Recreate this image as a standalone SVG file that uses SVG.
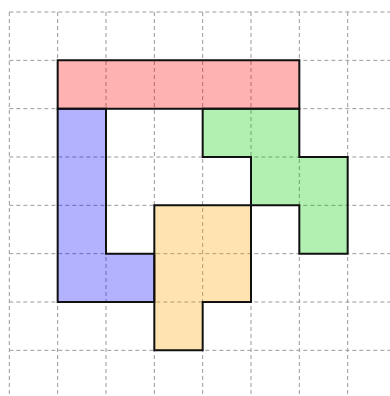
<svg xmlns="http://www.w3.org/2000/svg" width="390" height="396" viewBox="0 0 390 396">
<style>
.grid line{stroke:#999;stroke-width:1;stroke-dasharray:4,3;fill:none}
.piece{stroke:#111;stroke-width:2;stroke-linejoin:miter}
</style>
<rect width="390" height="396" fill="#fff"/>
<g id="grid" class="grid">
<line x1="9.33" y1="12" x2="9.33" y2="396"/>
<line x1="57.67" y1="12" x2="57.67" y2="396"/>
<line x1="106" y1="12" x2="106" y2="396"/>
<line x1="154.33" y1="12" x2="154.33" y2="396"/>
<line x1="202.67" y1="12" x2="202.67" y2="396"/>
<line x1="251" y1="12" x2="251" y2="396"/>
<line x1="299.33" y1="12" x2="299.33" y2="396"/>
<line x1="347.67" y1="12" x2="347.67" y2="396"/>
<line x1="9.33" y1="12" x2="390" y2="12"/>
<line x1="9.33" y1="60.33" x2="390" y2="60.33"/>
<line x1="9.33" y1="108.67" x2="390" y2="108.67"/>
<line x1="9.33" y1="157" x2="390" y2="157"/>
<line x1="9.33" y1="205.33" x2="390" y2="205.33"/>
<line x1="9.33" y1="253.67" x2="390" y2="253.67"/>
<line x1="9.33" y1="302" x2="390" y2="302"/>
<line x1="9.33" y1="350.33" x2="390" y2="350.33"/>
</g>
<g id="red" class="piece">
<polygon points="57.67,60.33 299.33,60.33 299.33,108.67 57.67,108.67" fill="rgb(255,0,0)" fill-opacity="0.3"/>
</g>
<g id="blue" class="piece">
<polygon points="57.67,108.67 106,108.67 106,253.67 154.33,253.67 154.33,302 57.67,302" fill="rgb(0,0,255)" fill-opacity="0.3"/>
</g>
<g id="green" class="piece">
<polygon points="202.67,108.67 299.33,108.67 299.33,157 347.67,157 347.67,253.67 299.33,253.67 299.33,205.33 251,205.33 251,157 202.67,157" fill="rgb(0,205,0)" fill-opacity="0.3"/>
</g>
<g id="orange" class="piece">
<polygon points="154.33,205.33 251,205.33 251,302 202.67,302 202.67,350.33 154.33,350.33" fill="rgb(255,165,0)" fill-opacity="0.3"/>
</g>
</svg>
